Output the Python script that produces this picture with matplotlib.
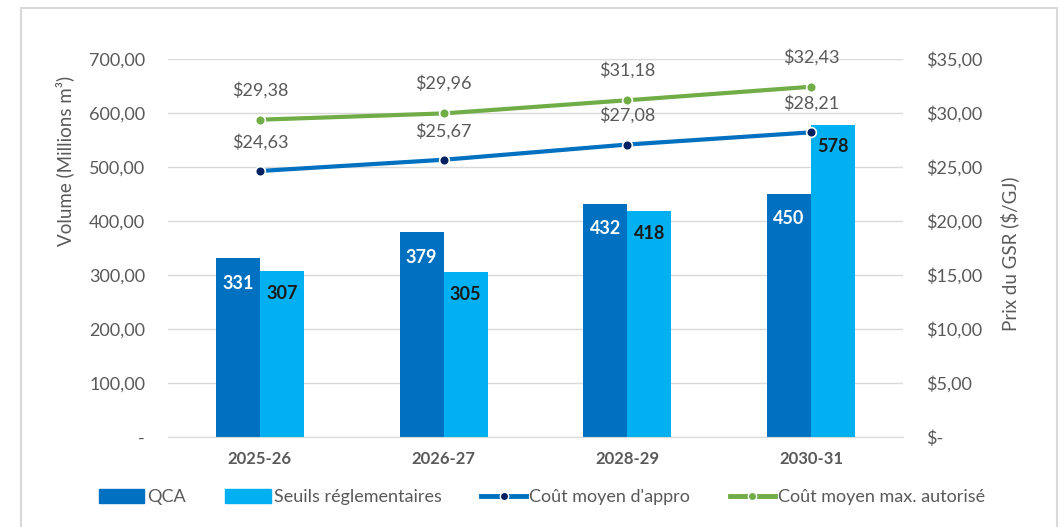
import matplotlib
matplotlib.use("Agg")
import matplotlib.pyplot as plt
import numpy as np
from matplotlib.patches import Patch, Rectangle
from matplotlib.lines import Line2D
from matplotlib.ticker import FixedLocator, FuncFormatter

plt.rcParams['font.family'] = ['Lato', 'DejaVu Sans']

categories = ["2025-26", "2026-27", "2028-29", "2030-31"]
qca = [331, 379, 432, 450]
seuils = [307, 305, 418, 578]
cout_appro = [24.63, 25.67, 27.08, 28.21]
cout_max = [29.38, 29.96, 31.18, 32.43]

TXT = "#595959"
C_QCA = "#0070C0"
C_SEU = "#00B0F0"
C_BLUE = "#0070C0"
C_NAVY = "#002060"
C_GREEN = "#70AD47"
GRID = "#d9d9d9"

fig = plt.figure(figsize=(10.59, 5.27), dpi=100)
fig.patches.append(Rectangle((21/1059, -0.05), (1057-21)/1059, 1 - 8/527 + 0.05,
                             transform=fig.transFigure, fill=False,
                             edgecolor=GRID, linewidth=1.5))
ax = fig.add_axes([168/1059, 1-437/527, (903-168)/1059, (437-59)/527])
ax2 = ax.twinx()

x = np.arange(len(categories))
w = 0.24
ax.bar(x - w/2, qca, w, color=C_QCA, zorder=2)
ax.bar(x + w/2, seuils, w, color=C_SEU, zorder=2)

ax.set_xlim(-0.5, len(categories) - 0.5)
ax.set_ylim(0, 700)
ax2.set_ylim(0, 35)
ax.yaxis.set_major_locator(FixedLocator(np.arange(0, 701, 100)))
ax2.yaxis.set_major_locator(FixedLocator(np.arange(0, 35.01, 5)))

def lfmt(v, p):
    if v == 0:
        return "-"
    return f"{v:.2f}".replace(".", ",")

def rfmt(v, p):
    if v == 0:
        return "$-"
    return "$" + f"{v:.2f}".replace(".", ",")

ax.yaxis.set_major_formatter(FuncFormatter(lfmt))
ax2.yaxis.set_major_formatter(FuncFormatter(rfmt))
ax.grid(axis='y', color=GRID, linewidth=1, zorder=0)
ax.set_axisbelow(True)
for a in (ax, ax2):
    for s in ["top", "left", "right"]:
        a.spines[s].set_visible(False)
    a.spines["bottom"].set_color(GRID)
ax2.spines["bottom"].set_visible(False)

ax.set_xticks(x)
ax.set_xticklabels(categories, fontweight="bold", fontsize=12, color=TXT)
ax.tick_params(axis='x', length=0, pad=10)
ax.tick_params(axis='y', length=0, pad=16.5, labelsize=13, labelcolor=TXT)
ax2.tick_params(axis='y', length=0, pad=16.5, labelsize=13, labelcolor=TXT)

fig.text(65/1059, 1-161/527, "Volume (Millions m³)", fontsize=13.5, color=TXT,
         rotation=90, ha='center', va='center')
fig.text(1010/1059, 1-254/527, "Prix du GSR ($/GJ)", fontsize=13.5, color=TXT,
         rotation=90, ha='center', va='center')

ax2.plot(x, cout_appro, color=C_BLUE, linewidth=3, marker='o', markersize=7,
         markerfacecolor=C_NAVY, markeredgecolor="white", markeredgewidth=1.2, zorder=5)
ax2.plot(x, cout_max, color=C_GREEN, linewidth=3, marker='o', markersize=7,
         markerfacecolor=C_GREEN, markeredgecolor="white", markeredgewidth=1.2, zorder=5)

for xi, v in zip(x, qca):
    ax.annotate(str(v), (xi - w/2, v), xytext=(0, -25), textcoords='offset pixels',
                ha='center', va='center', color='white', fontweight='bold', fontsize=13)
for xi, v in zip(x, seuils):
    ax.annotate(str(v), (xi + w/2, v), xytext=(0, -22), textcoords='offset pixels',
                ha='center', va='center', color='#1a1a1a', fontweight='bold', fontsize=13)
for xi, v in zip(x, cout_appro):
    ax2.annotate("$" + f"{v:.2f}".replace(".", ","), (xi, v), xytext=(0, 29),
                 textcoords='offset pixels', ha='center', va='center', color=TXT, fontsize=13)
for xi, v in zip(x, cout_max):
    ax2.annotate("$" + f"{v:.2f}".replace(".", ","), (xi, v), xytext=(0, 30),
                 textcoords='offset pixels', ha='center', va='center', color=TXT, fontsize=13)

handles = [Patch(color=C_QCA, label="QCA"),
           Patch(color=C_SEU, label="Seuils réglementaires"),
           Line2D([], [], color=C_BLUE, linewidth=3.5, marker='o', markersize=6,
                  markerfacecolor=C_NAVY, markeredgecolor="white", label="Coût moyen d'appro"),
           Line2D([], [], color=C_GREEN, linewidth=3.5, marker='o', markersize=6,
                  markerfacecolor=C_GREEN, markeredgecolor="white", label="Coût moyen max. autorisé")]
leg = fig.legend(handles=handles, loc='center', bbox_to_anchor=(542/1059, 1-497/527),
                 ncol=4, frameon=False, fontsize=13, handlelength=2.5, handleheight=0.85,
                 handletextpad=0.16, columnspacing=2.2)
for t in leg.get_texts():
    t.set_color(TXT)

fig.savefig("out.png", dpi=100)
